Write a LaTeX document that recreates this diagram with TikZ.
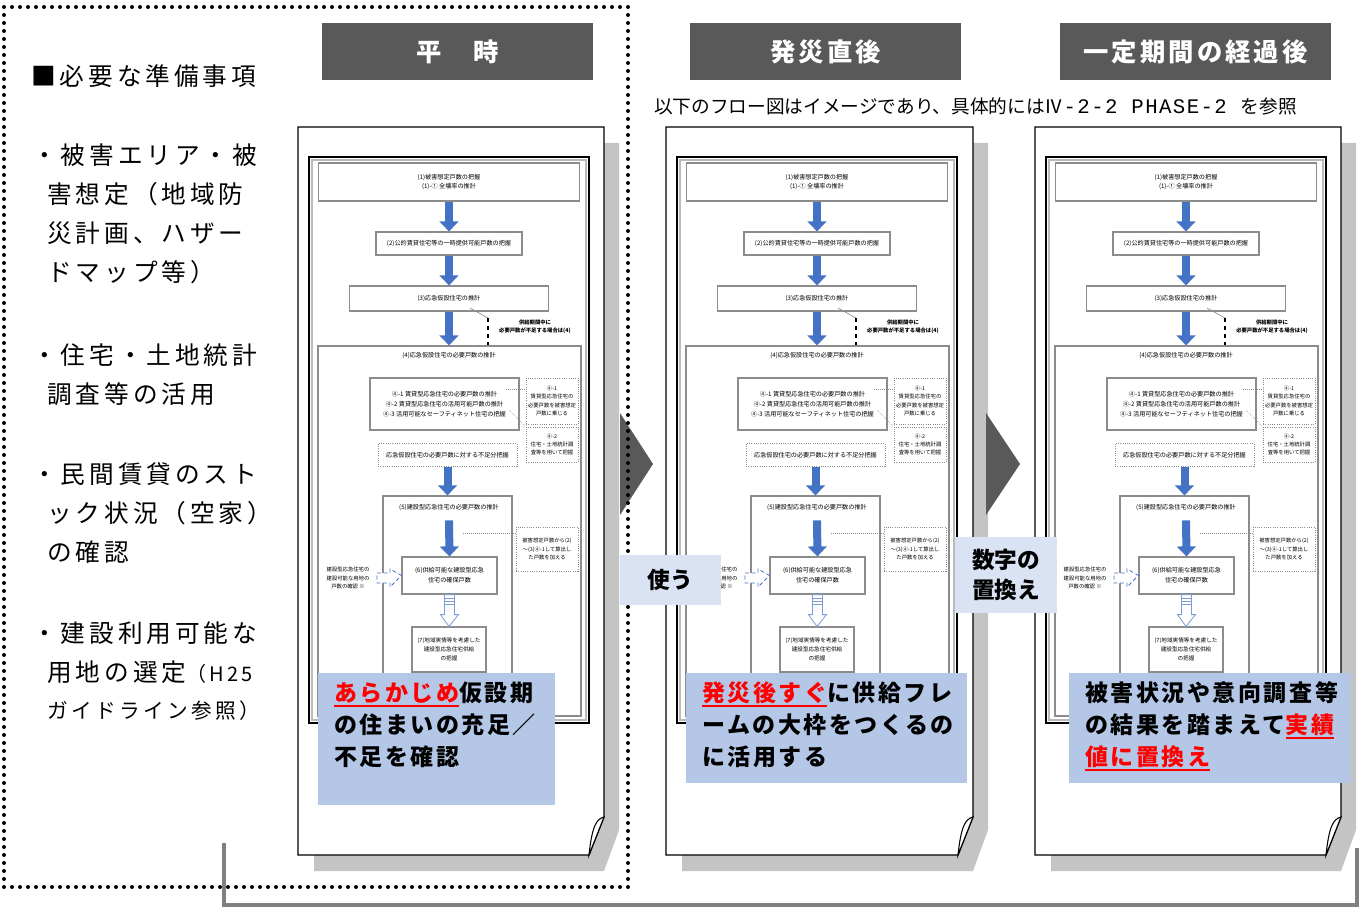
\documentclass[tikz,border=0pt]{standalone}
\usepackage{fontspec}
\setmainfont{Noto Sans CJK JP}
\newfontfamily\lsfont[LetterSpace=16]{Noto Sans CJK JP}
\newfontfamily\notefont[LetterSpace=11]{Noto Sans CJK JP}
\newfontfamily\hdrfont[LetterSpace=12]{Noto Sans CJK JP}
\newfontfamily\hintmono[LetterSpace=7]{Liberation Mono}
\usetikzlibrary{arrows.meta,calc}
\definecolor{hdrgray}{HTML}{595959}
\definecolor{shadowgray}{HTML}{C4C4C4}
\definecolor{noteblue}{HTML}{B4C7E7}
\definecolor{paleblue}{HTML}{DAE3F3}
\definecolor{arrowblue}{HTML}{4472C4}
\definecolor{loopgray}{HTML}{808080}
\definecolor{thumbgray}{HTML}{8C8C8C}
\newsavebox\ulbox
\newcommand\redul[1]{\textcolor{red}{\sbox\ulbox{#1}\rlap{\smash{\vrule height -2.6pt depth 4.1pt width \wd\ulbox}}\usebox\ulbox}}
\newcommand\tinyjp{\fontsize{4.6}{7.4}\selectfont}
\newcommand\tinierjp{\fontsize{4}{6.2}\selectfont}
\tikzset{
  wh/.style 2 args={minimum width={#1*0.75pt}, minimum height={#2*0.75pt}},
  tbox/.style={draw=thumbgray, line width=0.9pt, fill=white, align=center, inner sep=0.5pt, font=\tinyjp},
  dbox/.style={draw=thumbgray, densely dotted, line width=0.7pt, fill=white, align=center, inner sep=0.5pt, font=\tinierjp},
  tlabel/.style={align=center, inner sep=0pt, font=\tinyjp},
  barrow/.style={draw=arrowblue, line width=6pt, -{Triangle[length=7.5pt,width=14pt]}},
  leader/.style={thumbgray, densely dotted, line width=0.5pt},
  header/.style={fill=hdrgray, text=white, inner sep=0pt, wh={271}{57}, font=\hdrfont\fontsize{19}{22}\selectfont\bfseries},
  lefttext/.style={anchor=west, inner sep=0pt, font=\lsfont\fontsize{18.5}{22}\selectfont},
  notebox/.style={fill=noteblue, inner sep=0pt},
  notetext/.style={anchor=west, inner sep=0pt, font=\notefont\fontsize{17.25}{20}\selectfont\bfseries},
  tagbox/.style={fill=paleblue, inner sep=0pt, align=center, font=\fontsize{17}{22.5}\selectfont\bfseries},
  pageedge/.style={draw=black, line width=1pt, fill=white},
  dotframe/.style={line width=3pt, dash pattern=on 0pt off 6pt, line cap=round},
  loopline/.style={draw=loopgray, line width=3pt},
}
% page outline: L T R B
\newcommand\page[4]{%
  \fill[shadowgray] ({#1+16},{#2+16}) -- ({#3+15},{#2+16}) -- ({#3+15},{#4-25}) -- ({#3},{#4+16}) -- ({#1+16},{#4+16}) -- cycle;
  \draw[pageedge] (#1,#2) -- (#3,#2) -- (#3,{#4-38}) -- ({#3-15},#4) -- (#1,#4) -- cycle;
  \draw[pageedge, line width=0.8pt] (#3,{#4-38}) .. controls ({#3-8},{#4-36}) and ({#3-12},{#4-28}) .. ({#3-15},#4) -- cycle;
}
% flow chart thumbnail (page-1 coordinates)
\newcommand\thumb[1]{%
  \draw[black, line width=0.8pt] (309,157) rectangle (589,723);
  \draw[thumbgray!60, line width=0.8pt] (312,160) rectangle (586,720);
  \node[tbox, wh={261}{38}] (t1#1) at (449,182) {(1)被害想定戸数の把握\\(1)-① 全壊率の推計};
  \node[tbox, wh={146}{23}] (t2#1) at (449,243.5) {(2)公的賃貸住宅等の一時提供可能戸数の把握};
  \node[tbox, wh={199}{25}] (t3#1) at (449,298.5) {(3)応急仮設住宅の推計};
  \node[tbox, wh={263}{370}] (t4#1) at (449.5,531) {};
  \node[tlabel] (t4h#1) at (449,356) {(4)応急仮設住宅の必要戸数の推計};
  \node[tbox, wh={149}{52}] (t4a#1) at (444.5,404) {④-1 賃貸型応急住宅の必要戸数の推計\\④-2 賃貸型応急住宅の活用可能戸数の推計\\④-3 活用可能なセーフティネット住宅の把握};
  \node[dbox, wh={52}{46}] (d1#1) at (552,401) {④-1\\賃貸型応急住宅の\\必要戸数を被害想定\\戸数に乗じる};
  \node[dbox, wh={52}{35}] (d2#1) at (552,444.5) {④-2\\住宅・土地統計調\\査等を用いて把握};
  \node[dbox, wh={139}{23}, font=\tinyjp] (d3#1) at (447.5,455) {応急仮設住宅の必要戸数に対する不足分把握};
  \node[tbox, wh={129}{220}] (t5#1) at (447.5,606) {};
  \node[tlabel] (t5h#1) at (449,508) {(5)建設型応急住宅の必要戸数の推計};
  \node[dbox, wh={62}{44}] (d4#1) at (547,549) {被害想定戸数から(2)\\～(3)④-1して算出し\\た戸数を加える};
  \node[tbox, wh={95}{37}] (t6#1) at (449.5,575.5) {(6)供給可能な建設型応急\\住宅の確保戸数};
  \node[tlabel, font=\tinierjp] (l5#1) at (348,578) {建設型応急住宅の\\建設可能な用地の\\戸数の確認 ※};
  \node[tbox, wh={74}{45}, font=\fontsize{4.2}{6.8}\selectfont] (t7#1) at (449,649.5) {(7)地域実情等を考慮した\\建設型応急住宅供給\\の把握};
  \node[tlabel, font=\tinierjp\bfseries] (lb#1) at (535,327) {供給期間中に\\必要戸数が不足する場合は(4)};
  \coordinate (c3#1) at (470,308);
  \coordinate (c3b#1) at (488,318);
  \draw[thumbgray, line width=0.5pt] (c3#1) -- (c3b#1);
  \draw[black, dashed, line width=1pt] (c3b#1) -- (c3b#1 |- t4#1.north);
  \draw[leader] (506,389) -- (d1#1.west |- 506,389);
  \draw[leader] (509,410) -- (d2#1.north west);
  \draw[leader] (463,533) -- (d4#1.west |- 463,533);
  \draw[barrow] (t1#1.south) -- (t2#1.north);
  \draw[barrow] (t2#1.south) -- (t3#1.north);
  \draw[barrow] (t3#1.south) -- (t3#1.south |- t4#1.north);
  \draw[barrow] (d3#1.south) -- (d3#1.south |- t5#1.north);
  \draw[barrow] ($(t5h#1.south)+(0,9)$) -- (t6#1.north);
  \draw[arrowblue, densely dashed, line width=0.6pt, fill=white] (377,573) -- (390,573) -- (390,569) -- (t6#1.west) -- (390,587) -- (390,583) -- (377,583) -- cycle;
  \draw[arrowblue!70, line width=0.6pt, fill=white] ($(t6#1.south)+(-5,0)$) -- ++(0,20) -- ++(-4,0) -- (t7#1.north) -- ($(t6#1.south)+(9,20)$) -- ++(-4,0) -- ($(t6#1.south)+(5,0)$) -- cycle;
  \foreach \yy in {4,7,10} \draw[arrowblue!70, line width=0.5pt] ($(t6#1.south)+(-5,\yy)$) -- ++(10,0);
}
\begin{document}
\begin{tikzpicture}[x=0.75pt,y=-0.75pt]
\useasboundingbox (0,0) rectangle (1372,909);
\fill[white] (0,0) rectangle (1372,909);

% left column text
\node[lefttext] (req) at (31,76) {■必要な準備事項};
\node[lefttext] (l1a) at (32,155) {・被害エリア・被};
\node[lefttext] (l1b) at (47,194) {害想定（地域防};
\node[lefttext] (l1c) at (47,233) {災計画、ハザー};
\node[lefttext] (l1d) at (47,272) {ドマップ等）};
\node[lefttext] (l2a) at (32,355) {・住宅・土地統計};
\node[lefttext] (l2b) at (47,394) {調査等の活用};
\node[lefttext] (l3a) at (32,474) {・民間賃貸のスト};
\node[lefttext] (l3b) at (47,513) {ック状況（空家）};
\node[lefttext] (l3c) at (47,552) {の確認};
\node[lefttext] (l4a) at (32,633) {・建設利用可能な};
\node[lefttext] (l4b) at (47,672) {用地の選定{\fontsize{15}{18}\selectfont（H25}};
\node[lefttext, font=\lsfont\fontsize{15.5}{18}\selectfont] (l4c) at (47,711) {ガイドライン参照）};

% headers
\node[header] (h1) at (457.5,51.5) {平　時};
\node[header] (h2) at (825.5,51.5) {発災直後};
\node[header] (h3) at (1195.5,51.5) {一定期間の経過後};
\node[anchor=west, inner sep=0pt, font=\fontsize{14}{16}\selectfont] (hint) at (654,106) {以下のフロー図はイメージであり、具体的にはⅣ{\hintmono\fontsize{15.5}{16}\selectfont -2-2 PHASE-2 }を参照};

% pages
\page{298}{127}{604}{855}
\page{666}{127}{973}{855}
\page{1035}{127}{1341}{855}
\thumb{a}
\begin{scope}[shift={(368,0)}]\thumb{b}\end{scope}
\begin{scope}[shift={(737,0)}]\thumb{c}\end{scope}

% notes on pages
\node[notebox, wh={237}{132}] (nb1) at (436.5,739) {};
\node[notebox, wh={281}{110}] (nb2) at (826.5,728) {};
\node[notebox, wh={282}{110}] (nb3) at (1210,728) {};
\node[notetext] (n1a) at (334,693) {\redul{あらかじめ}仮設期};
\node[notetext] (n1b) at (334,725) {の住まいの充足／};
\node[notetext] (n1c) at (334,757) {不足を確認};
\node[notetext] (n2a) at (702,693) {\redul{発災後すぐ}に供給フレ};
\node[notetext] (n2b) at (702,725) {ームの大枠をつくるの};
\node[notetext] (n2c) at (702,757) {に活用する};
\node[notetext] (n3a) at (1085,693) {被害状況や意向調査等};
\node[notetext] (n3b) at (1085,725) {の結果を踏まえて\redul{実績}};
\node[notetext] (n3c) at (1085,757) {\redul{値に置換え}};

% big arrows between pages
\fill[hdrgray] (620,413) -- (653,464) -- (620,515) -- cycle;
\fill[hdrgray] (986,413) -- (1020,464) -- (986,515) -- cycle;

% dotted frame
\draw[dotframe] (4,7) rectangle (628,887);

% tag boxes
\node[tagbox, wh={101}{50}] (use) at (670.5,580) {使う};
\node[tagbox, wh={102}{76}] (repl) at (1006,575) {数字の\\置換え};

% loop line
\coordinate (loopA) at (224,843);
\coordinate (loopB) at (1357,848);
\draw[loopline] (loopA) -- ++(0,62) -| (loopB);
\end{tikzpicture}
\end{document}
